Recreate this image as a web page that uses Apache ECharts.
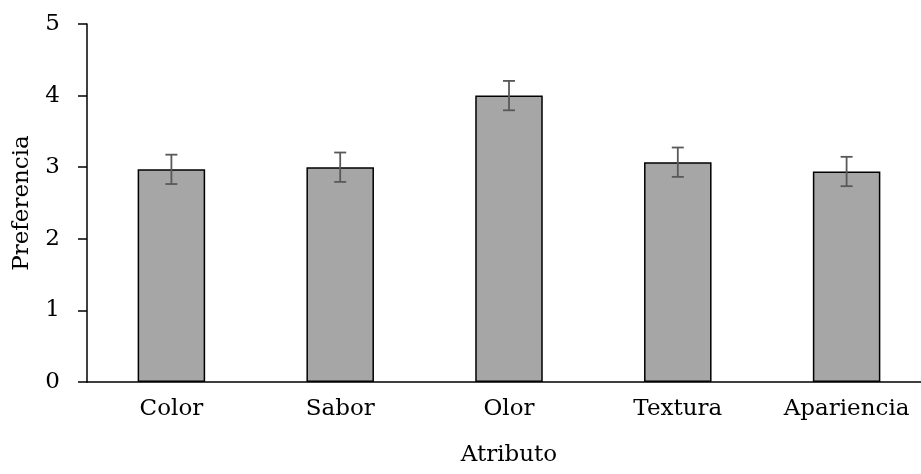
<!DOCTYPE html>
<html><head><meta charset="utf-8">
<script src="https://cdn.jsdelivr.net/npm/echarts@6/dist/echarts.min.js"></script>
<style>html,body{margin:0;padding:0;background:#fff}#c{width:921px;height:474px}</style>
</head><body><div id="c"></div>
<script>
const categories = ["Color", "Sabor", "Olor", "Textura", "Apariencia"];
const values = [2.97, 3.0, 4.0, 3.07, 2.94];
const errors = [0.205, 0.205, 0.205, 0.205, 0.205];
const yTicks = [0, 1, 2, 3, 4, 5];

const font = "DejaVu Serif";
const fs = 23;
const chart = echarts.init(document.getElementById('c'), null, {renderer: 'canvas'});
const errData = categories.map((c, i) => [i, values[i] - errors[i], values[i] + errors[i]]);
chart.setOption({
  animation: false,
  grid: {left: 87, right: -10, top: 24, bottom: 92, containLabel: false, outerBoundsMode: 'none'},
  xAxis: {
    type: 'category', data: categories,
    axisLine: {lineStyle: {color: '#000', width: 1.5}},
    axisTick: {show: false},
    axisLabel: {color: '#000', fontFamily: font, fontSize: fs, margin: 16},
    name: 'Atributo', nameLocation: 'middle', nameGap: 62,
    nameTextStyle: {color: '#000', fontFamily: font, fontSize: fs}
  },
  yAxis: {
    type: 'value', min: yTicks[0], max: yTicks[yTicks.length - 1], interval: 1,
    axisLine: {show: true, lineStyle: {color: '#000', width: 1.5}},
    axisTick: {show: true, length: 9, lineStyle: {color: '#000', width: 1.5}},
    splitLine: {show: false},
    axisLabel: {color: '#000', fontFamily: font, fontSize: fs, margin: 27},
    name: 'Preferencia', nameLocation: 'middle', nameGap: 53, nameRotate: 90,
    nameTextStyle: {color: '#000', fontFamily: font, fontSize: fs}
  },
  series: [{
    type: 'bar', data: values, barWidth: '40%',
    itemStyle: {color: '#A6A6A6', borderColor: '#000', borderWidth: 1.5}
  }, {
    type: 'custom', data: errData, z: 10,
    renderItem: function (params, api) {
      const x = api.value(0);
      const lo = api.coord([x, api.value(1)]);
      const hi = api.coord([x, api.value(2)]);
      const hw = 6;
      const st = {stroke: '#595959', lineWidth: 1.8};
      return {type: 'group', children: [
        {type: 'line', shape: {x1: lo[0], y1: lo[1], x2: hi[0], y2: hi[1]}, style: st},
        {type: 'line', shape: {x1: lo[0] - hw, y1: lo[1], x2: lo[0] + hw, y2: lo[1]}, style: st},
        {type: 'line', shape: {x1: hi[0] - hw, y1: hi[1], x2: hi[0] + hw, y2: hi[1]}, style: st}
      ]};
    }
  }]
});
</script></body></html>
